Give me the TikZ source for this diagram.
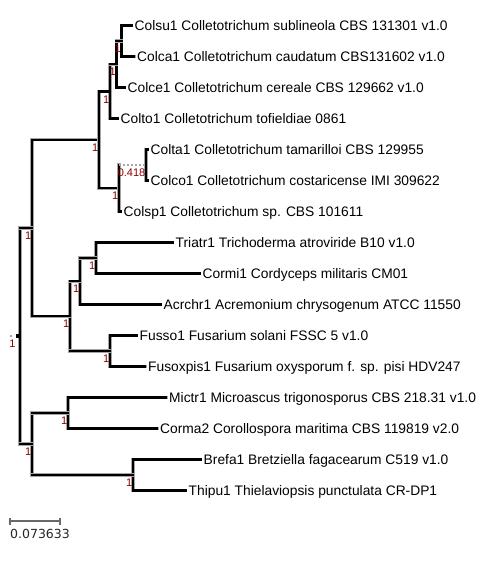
\documentclass[tikz,border=0pt]{standalone}
\usepackage{fontspec}
\setmainfont{Liberation Sans}
\newfontfamily\scalefnt{DejaVu Sans}
\definecolor{bootred}{RGB}{140,0,0}
\definecolor{halo}{RGB}{165,165,165}
\definecolor{scalegray}{RGB}{105,105,105}
\tikzset{
  branch/.style={draw=black, line width=2.2pt, line cap=rect, preaction={draw=halo, line width=3.2pt, line cap=rect}},
  dotbranch/.style={draw=gray!70, line width=2pt, dash pattern=on 2pt off 2pt},
  leaftext/.style={anchor=base west, inner sep=0pt, font=\fontsize{13.8}{16}\selectfont},
  boot/.style={anchor=base east, inner sep=0pt, text=bootred, font=\fontsize{11}{13}\selectfont},
  scalebar/.style={draw=scalegray, line width=1.5pt},
}
\begin{document}
\begin{tikzpicture}[x=1pt,y=-1pt]
\useasboundingbox (0,0) rectangle (493,566);
% leaf ends
\coordinate (l1) at (131.5,25.5);
\coordinate (l2) at (134,56.5);
\coordinate (l3) at (124.5,87.5);
\coordinate (l4) at (117.5,118.5);
\coordinate (l5) at (147.5,149.5);
\coordinate (l6) at (147.5,180.5);
\coordinate (l7) at (120.5,211.5);
\coordinate (l8) at (172.5,242.5);
\coordinate (l9) at (199.5,273.5);
\coordinate (l10) at (160.5,304.5);
\coordinate (l11) at (136.5,335.5);
\coordinate (l12) at (145,366.5);
\coordinate (l13) at (166,397.5);
\coordinate (l14) at (157,428.5);
\coordinate (l15) at (200.5,459.5);
\coordinate (l16) at (185.5,490.5);
% internal nodes
\coordinate (n1) at (121.5,41);
\coordinate (n2) at (116.5,64.25);
\coordinate (n3) at (110,91.4);
\coordinate (n4) at (146,165);
\coordinate (n5) at (119,188.25);
\coordinate (n6) at (99,139.8);
\coordinate (n7) at (96,258);
\coordinate (n8) at (80,281.25);
\coordinate (n9) at (110,351);
\coordinate (n10) at (70,316.1);
\coordinate (n11) at (32,228);
\coordinate (n12) at (68,413);
\coordinate (n13) at (133,475);
\coordinate (n14) at (32,444);
\coordinate (root) at (20,336);
% leaf labels
\node[leaftext] (t1) at ([xshift=3pt,yshift=-5pt]l1) {Colsu1 Colletotrichum sublineola CBS 131301 v1.0};
\node[leaftext] (t2) at ([xshift=3pt,yshift=-5pt]l2) {Colca1 Colletotrichum caudatum CBS131602 v1.0};
\node[leaftext] (t3) at ([xshift=3pt,yshift=-5pt]l3) {Colce1 Colletotrichum cereale CBS 129662 v1.0};
\node[leaftext] (t4) at ([xshift=3pt,yshift=-5pt]l4) {Colto1 Colletotrichum tofieldiae 0861};
\node[leaftext] (t5) at ([xshift=3pt,yshift=-5pt]l5) {Colta1 Colletotrichum tamarilloi CBS 129955};
\node[leaftext] (t6) at ([xshift=3pt,yshift=-5pt]l6) {Colco1 Colletotrichum costaricense IMI 309622};
\node[leaftext] (t7) at ([xshift=3pt,yshift=-5pt]l7) {Colsp1 Colletotrichum sp. CBS 101611};
\node[leaftext] (t8) at ([xshift=3pt,yshift=-5pt]l8) {Triatr1 Trichoderma atroviride B10 v1.0};
\node[leaftext] (t9) at ([xshift=3pt,yshift=-5pt]l9) {Cormi1 Cordyceps militaris CM01};
\node[leaftext] (t10) at ([xshift=3pt,yshift=-5pt]l10) {Acrchr1 Acremonium chrysogenum ATCC 11550};
\node[leaftext] (t11) at ([xshift=3pt,yshift=-5pt]l11) {Fusso1 Fusarium solani FSSC 5 v1.0};
\node[leaftext] (t12) at ([xshift=3pt,yshift=-5pt]l12) {Fusoxpis1 Fusarium oxysporum f. sp. pisi HDV247};
\node[leaftext] (t13) at ([xshift=3pt,yshift=-5pt]l13) {Mictr1 Microascus trigonosporus CBS 218.31 v1.0};
\node[leaftext] (t14) at ([xshift=3pt,yshift=-5pt]l14) {Corma2 Corollospora maritima CBS 119819 v2.0};
\node[leaftext] (t15) at ([xshift=3pt,yshift=-5pt]l15) {Brefa1 Bretziella fagacearum C519 v1.0};
\node[leaftext] (t16) at ([xshift=3pt,yshift=-5pt]l16) {Thipu1 Thielaviopsis punctulata CR-DP1};
% branches
\foreach \p/\a/\b in {n1/l1/l2, n2/n1/l3, n3/n2/l4, n4/l5/l6, n7/l8/l9, n8/n7/l10, n9/l11/l12, n10/n8/n9, n11/n6/n10, n12/l13/l14, n13/l15/l16, n14/n12/n13, root/n11/n14, n6/n3/n5}{
  \draw[branch] (\p |- \a) -- (\p |- \b);
  \draw[branch] (\p |- \a) -- (\a);
  \draw[branch] (\p |- \b) -- (\b);
}
\draw[branch] (n5 |- n4) -- (n5 |- l7);
\draw[branch] (n5 |- l7) -- (l7);
\draw[dotbranch] (n5 |- n4) -- (n4);
% bootstrap labels
\foreach \p/\v in {n1/1, n2/1, n3/1, n4/0.418, n5/1, n6/1, n7/1, n8/1, n9/1, n10/1, n11/1, n12/1, n13/1, n14/1}{
  \node[boot] (b-\p) at ([xshift=-0.5pt,yshift=-11.6pt]\p) {\v};
}
% root marker
\fill[gray!70] (10,335) rectangle (12,336.5);
\node[fill=black, inner sep=0pt, minimum width=3.5pt, minimum height=3.5pt] (rootmark) at (17.3,335.8) {};
\node[boot] (b-root) at (15.8,347.6) {1};
% scale bar
\coordinate (s1) at (10,521);
\coordinate (s2) at (60,521);
\draw[scalebar] (s1) -- (s2);
\draw[scalebar] ([yshift=3.5pt]s1) -- ([yshift=-3.5pt]s1);
\draw[scalebar] ([yshift=3.5pt]s2) -- ([yshift=-3.5pt]s2);
\node[anchor=base west, inner sep=0pt, text=black!85, font=\scalefnt\fontsize{12.5}{14}\selectfont] (slabel) at (10,538.3) {0.073633};
\end{tikzpicture}
\end{document}
